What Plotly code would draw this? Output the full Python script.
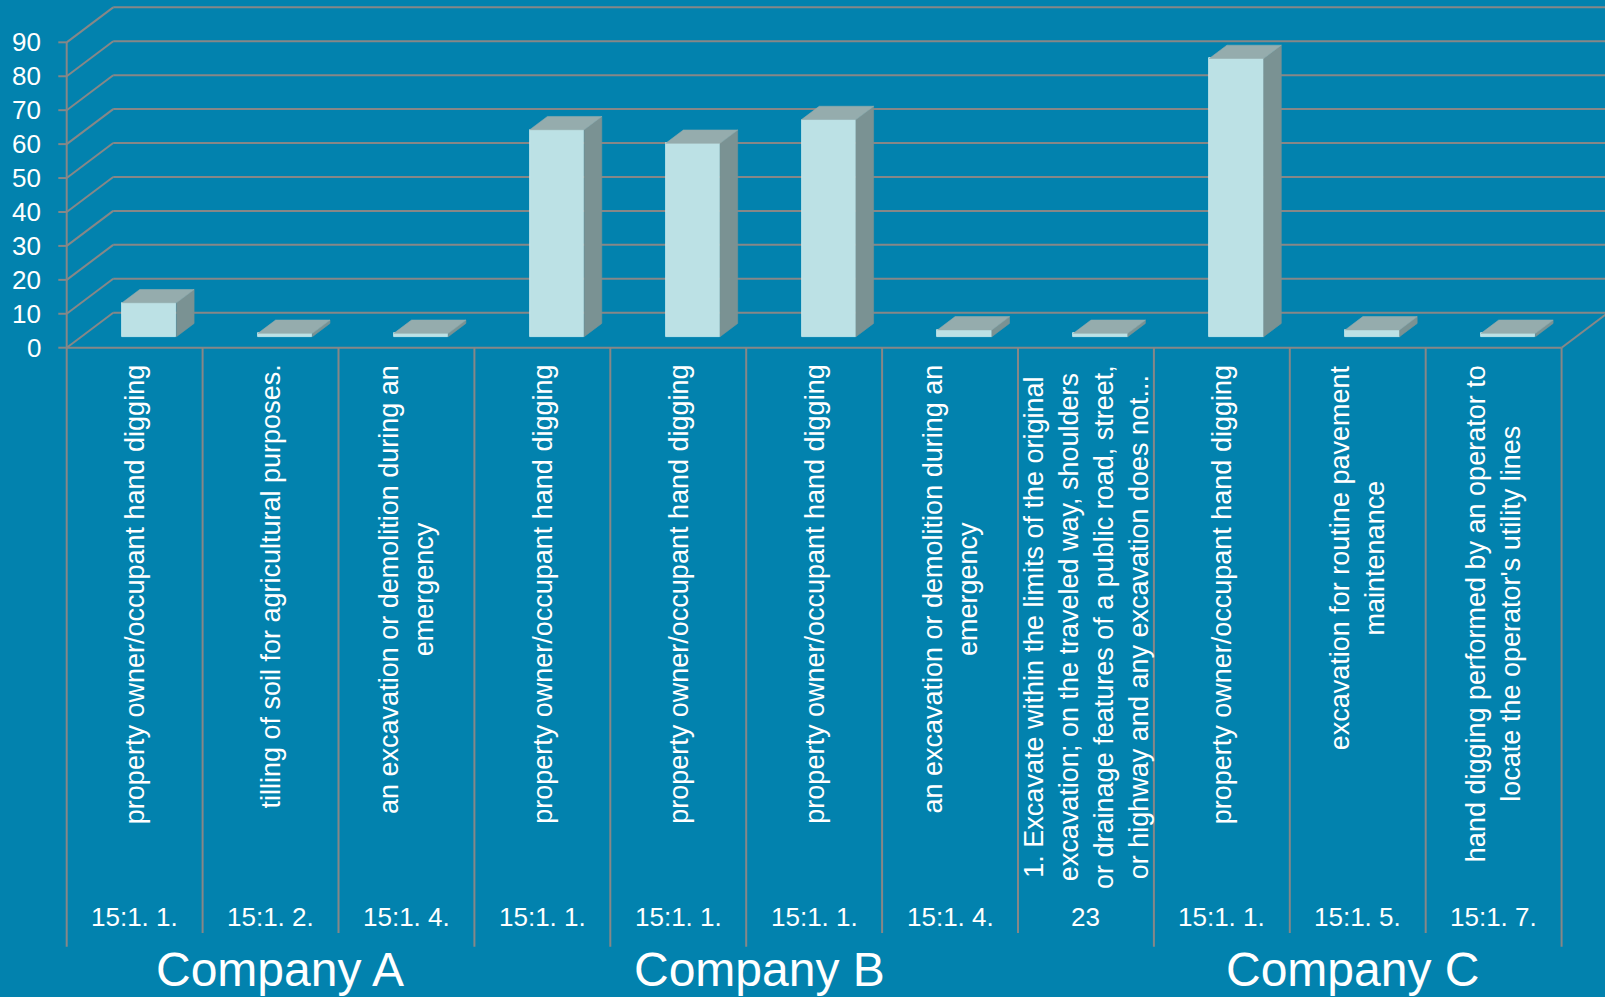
import plotly.graph_objects as go

# ---------------- data ----------------
categories = [
    "property owner/occupant hand digging",
    "tilling of soil for agricultural purposes.",
    "an excavation or demolition during an<br>emergency",
    "property owner/occupant hand digging",
    "property owner/occupant hand digging",
    "property owner/occupant hand digging",
    "an excavation or demolition during an<br>emergency",
    "1. Excavate within the limits of the original<br>excavation; on the traveled way, shoulders<br>or drainage features of a public road, street,<br>or highway and any excavation does not...",
    "property owner/occupant hand digging",
    "excavation for routine pavement<br>maintenance",
    "hand digging performed by an operator to<br>locate the operator's utility lines",
]
codes = ["15:1. 1.", "15:1. 2.", "15:1. 4.", "15:1. 1.", "15:1. 1.", "15:1. 1.",
         "15:1. 4.", "23", "15:1. 1.", "15:1. 5.", "15:1. 7."]
values = [10, 1, 1, 61, 57, 64, 2, 1, 82, 2, 1]
companies = ["Company A", "Company B", "Company C"]
y_ticks = [0, 10, 20, 30, 40, 50, 60, 70, 80, 90]

# ---------------- layout geometry (pixel calibration) ----------------
W, H = 1605, 997
X0_PX, CAT_PX = 66.7, 135.9      # left edge of category axis, width of one category
Y0_PX, UNIT_PX = 347.7, 3.393    # value 0 on the front plane, px per value unit


def px2x(px):
    return -0.5 + (px - X0_PX) / CAT_PX


def px2y(py):
    return (Y0_PX - py) / UNIT_PX


DX = 46.5 / CAT_PX     # full depth offset (category units)
DY = 35.0 / UNIT_PX    # full depth offset (value units)
D0 = 0.314             # bar front depth fraction
DD = 0.38              # bar depth fraction
BW = 0.4               # bar width
n = len(values)
long_seps = [0, 3, 4, 5, 8, 11]
company_x = [1.07, 4.60, 8.96]

BG = "#0282AE"
GRID = "#878787"
FRONT = "#BCE1E5"
TOP = "#95ACAD"
SIDE = "#7A9293"
FONT = "Liberation Sans, Arial, sans-serif"

fig = go.Figure()

# front faces
xc = [i + D0 * DX for i in range(n)]
base = D0 * DY
fig.add_trace(go.Bar(
    x=xc, y=values, base=[base] * n, width=BW,
    marker=dict(color=FRONT, line=dict(width=0.8, color="#CFEDF0")),
    hoverinfo="skip", showlegend=False,
))

ddx, ddy = DD * DX, DD * DY
for i, v in enumerate(values):
    xl, xr = xc[i] - BW / 2, xc[i] + BW / 2
    yb, yt = base, base + v
    # side face
    fig.add_trace(go.Scatter(
        x=[xr, xr + ddx, xr + ddx, xr, xr], y=[yb, yb + ddy, yt + ddy, yt, yb],
        fill="toself", fillcolor=SIDE, mode="lines", line=dict(width=0.6, color=SIDE),
        hoverinfo="skip", showlegend=False))
    # top face
    fig.add_trace(go.Scatter(
        x=[xl, xr, xr + ddx, xl + ddx, xl], y=[yt, yt, yt + ddy, yt + ddy, yt],
        fill="toself", fillcolor=TOP, mode="lines", line=dict(width=0.6, color=TOP),
        hoverinfo="skip", showlegend=False))

shapes = []
gl = dict(color=GRID, width=2)
for v in y_ticks:
    # back wall gridline
    shapes.append(dict(type="line", xref="x", yref="y", layer="below",
                       x0=-0.5 + DX, y0=v + DY, x1=n - 0.5 + DX, y1=v + DY, line=gl))
    # side wall diagonal
    shapes.append(dict(type="line", xref="x", yref="y", layer="below",
                       x0=-0.5, y0=v, x1=-0.5 + DX, y1=v + DY, line=gl))
    # tick mark
    shapes.append(dict(type="line", xref="x", yref="y", layer="below",
                       x0=px2x(58.3), y0=v, x1=-0.5, y1=v, line=gl))
# value axis line
shapes.append(dict(type="line", xref="x", yref="y", layer="below",
                   x0=-0.5, y0=0, x1=-0.5, y1=y_ticks[-1], line=gl))
# front floor line
shapes.append(dict(type="line", xref="x", yref="y", layer="below",
                   x0=-0.5, y0=0, x1=n - 0.5, y1=0, line=gl))
# right floor edge
shapes.append(dict(type="line", xref="x", yref="y", layer="below",
                   x0=n - 0.5, y0=0, x1=n - 0.5 + DX, y1=DY, line=gl))
# category separators
for k in range(n + 1):
    yend = px2y(946.7) if k in long_seps else px2y(933)
    shapes.append(dict(type="line", xref="x", yref="y", layer="below",
                       x0=k - 0.5, y0=0, x1=k - 0.5, y1=yend, line=gl))

ann = []
for v in y_ticks:
    ann.append(dict(x=px2x(43), y=v, xref="x", yref="y", text=str(v), showarrow=False,
                    xanchor="right", yanchor="middle",
                    font=dict(family=FONT, size=26, color="white")))
for i, c in enumerate(categories):
    ann.append(dict(x=i, y=px2y(363), xref="x", yref="y", text=c, showarrow=False,
                    textangle=-90, xanchor="center", yanchor="top", align="center",
                    font=dict(family=FONT, size=27, color="white")))
for i, c in enumerate(codes):
    ann.append(dict(x=i, y=px2y(917), xref="x", yref="y", text=c, showarrow=False,
                    xanchor="center", yanchor="middle",
                    font=dict(family=FONT, size=26, color="white")))
for cx, c in zip(company_x, companies):
    ann.append(dict(x=cx, y=px2y(969), xref="x", yref="y", text=c, showarrow=False,
                    xanchor="center", yanchor="middle",
                    font=dict(family=FONT, size=48, color="white")))

fig.update_layout(
    width=W, height=H, margin=dict(l=0, r=0, t=0, b=0),
    paper_bgcolor=BG, plot_bgcolor=BG,
    xaxis=dict(range=[px2x(0), px2x(W)], visible=False, fixedrange=True),
    yaxis=dict(range=[px2y(H), px2y(0)], visible=False, fixedrange=True),
    shapes=shapes, annotations=ann, showlegend=False, bargap=0,
)

fig.write_html("out.html", config={"displayModeBar": False},
               post_script="document.body.style.margin='0';document.body.style.overflow='hidden';")
